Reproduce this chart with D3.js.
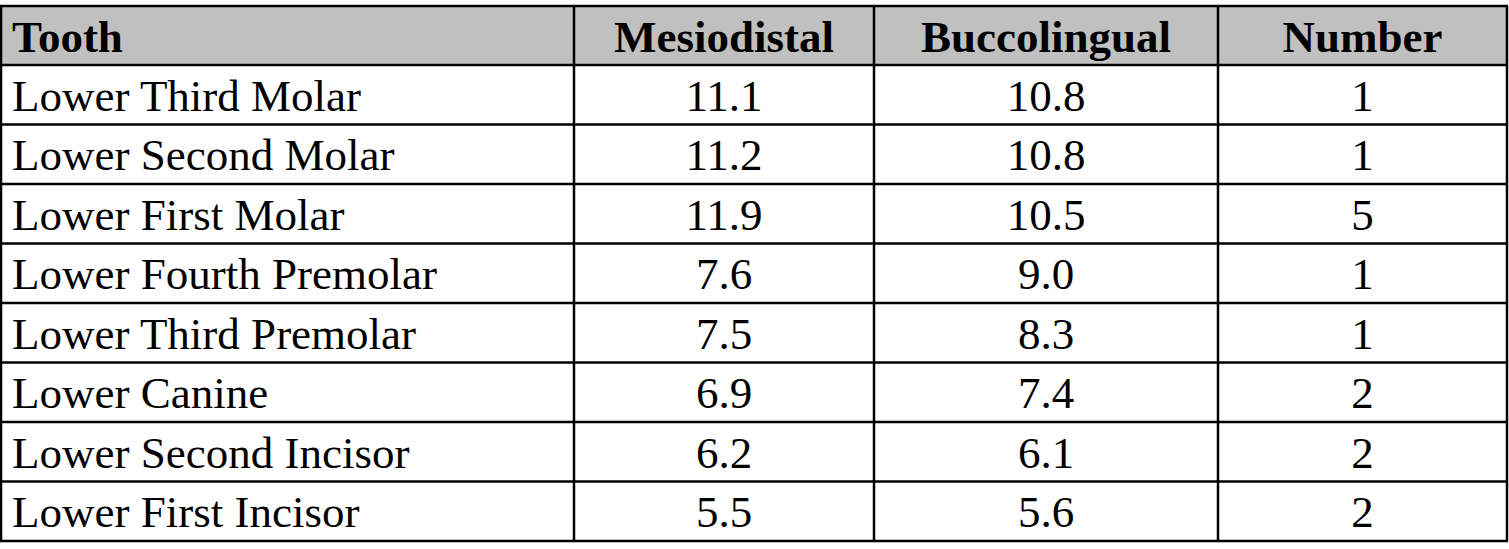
<!DOCTYPE html>
<html>
<head>
<meta charset="utf-8">
<script src="https://d3js.org/d3.v7.min.js"></script>
<style>body{margin:0;background:#fff}</style>
</head>
<body>
<svg id="tbl" width="1509" height="549"></svg>
<script>
var headers = ["Tooth", "Mesiodistal", "Buccolingual", "Number"];
var teeth = ["Lower Third Molar", "Lower Second Molar", "Lower First Molar", "Lower Fourth Premolar",
  "Lower Third Premolar", "Lower Canine", "Lower Second Incisor", "Lower First Incisor"];
var mesiodistal = ["11.1", "11.2", "11.9", "7.6", "7.5", "6.9", "6.2", "5.5"];
var buccolingual = ["10.8", "10.8", "10.5", "9.0", "8.3", "7.4", "6.1", "5.6"];
var counts = ["1", "1", "5", "1", "1", "2", "2", "2"];

var svg = d3.select("#tbl");
var colEdges = [1, 574, 874, 1218, 1507];
var tblTop = 6, headH = 59, rowH = 59.5;
var font = "'Liberation Serif','Times New Roman',serif";

// header background
svg.append("rect").attr("x", colEdges[0]).attr("y", tblTop)
  .attr("width", colEdges[4] - colEdges[0]).attr("height", headH).attr("fill", "#c0c0c0");

var rows = teeth.map(function(t, i) { return [t, mesiodistal[i], buccolingual[i], counts[i]]; });
var bottom = tblTop + headH + rows.length * rowH;

function cellText(vals, y, bold) {
  vals.forEach(function(v, c) {
    var left = c === 0;
    svg.append("text")
      .attr("x", left ? colEdges[0] + 11 : (colEdges[c] + colEdges[c + 1]) / 2)
      .attr("y", y)
      .attr("text-anchor", left ? "start" : "middle")
      .attr("font-family", font).attr("font-size", 45)
      .attr("font-weight", bold ? "bold" : "normal")
      .attr("fill", "#000").text(v);
  });
}
cellText(headers, tblTop + headH / 2 + 16, true);
rows.forEach(function(r, i) { cellText(r, tblTop + headH + i * rowH + rowH / 2 + 16, false); });

// grid lines
var ys = [tblTop, tblTop + headH];
rows.forEach(function(r, i) { ys.push(tblTop + headH + (i + 1) * rowH); });
ys.forEach(function(y) {
  svg.append("line").attr("x1", colEdges[0] - 1).attr("x2", colEdges[4] + 1)
    .attr("y1", y).attr("y2", y).attr("stroke", "#000").attr("stroke-width", 2.5);
});
colEdges.forEach(function(x) {
  svg.append("line").attr("x1", x).attr("x2", x).attr("y1", tblTop).attr("y2", bottom)
    .attr("stroke", "#000").attr("stroke-width", 2.5);
});
</script>
</body>
</html>
